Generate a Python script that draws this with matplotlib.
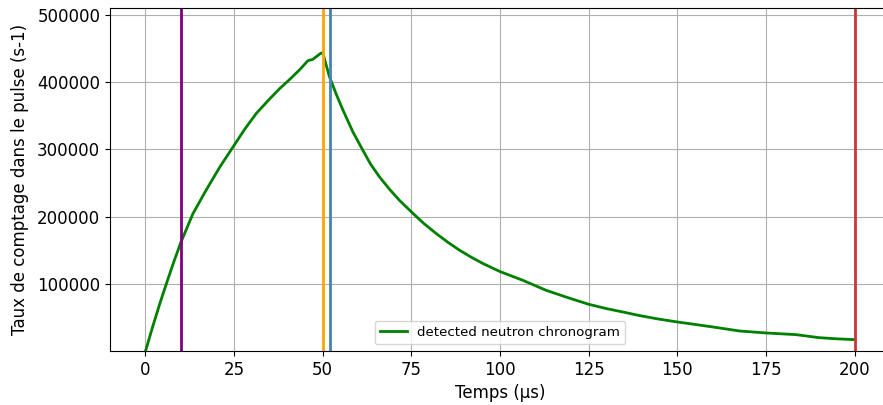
import matplotlib
matplotlib.use("Agg")
import matplotlib.pyplot as plt

# Detected neutron chronogram
time_us = [0, 2, 4, 6, 8, 10, 13.35, 17.1, 21, 25, 28, 31.2, 34.5, 37.8,
           40.5, 43.4, 45.8, 47.2, 49.4, 50,
           51.9, 53.8, 55.7, 58.5, 61.3, 63.5, 66, 68.8, 71.6, 75, 78.5, 82,
           85.3, 88.6, 92, 95.2, 100, 106.4, 113, 119, 125, 130, 134.6, 139,
           144, 150, 153.5, 160, 167.6, 175, 183.5, 190, 195, 200]
count_rate = [0, 36000, 70000, 102000, 133000, 162000, 204000, 239400, 274000,
              306000, 330000, 353000, 372000, 390000, 403000, 417800, 431700,
              433700, 442600, 443600,
              407900, 382000, 358400, 326000, 298900, 278000, 259200, 241000,
              224500, 207200, 190000, 175000, 162000, 150200, 139500, 130400,
              118500, 105600, 90700, 80000, 69900, 63500, 58500, 53500,
              48600, 43600, 41100, 36200, 30200, 27300, 24800, 20300, 18600,
              17400]

# Marker times (µs) and their colours
marker_times = [10, 50, 52, 200]
marker_colors = ["purple", "orange", "steelblue", "#c8353a"]

fig = plt.figure(figsize=(8.83, 4.05), dpi=100)
ax = fig.add_axes([110 / 883, 1 - 351 / 405, 780 / 883, 343 / 405])

ax.plot(time_us, count_rate, color="green", linewidth=2,
        label="detected neutron chronogram")

for t, c in zip(marker_times, marker_colors):
    ax.axvline(t, color=c, linewidth=2)

ax.set_xlim(-10, 210)
ax.set_ylim(500, 510000)
ax.set_xlabel("Temps (µs)", fontsize=12)
ax.set_ylabel("Taux de comptage dans le pulse (s-1)", fontsize=12, labelpad=6)
ax.tick_params(labelsize=12)
ax.grid(True)
ax.legend(loc="lower center", fontsize=9.6)

fig.savefig("out.png", dpi=100)
plt.close(fig)
